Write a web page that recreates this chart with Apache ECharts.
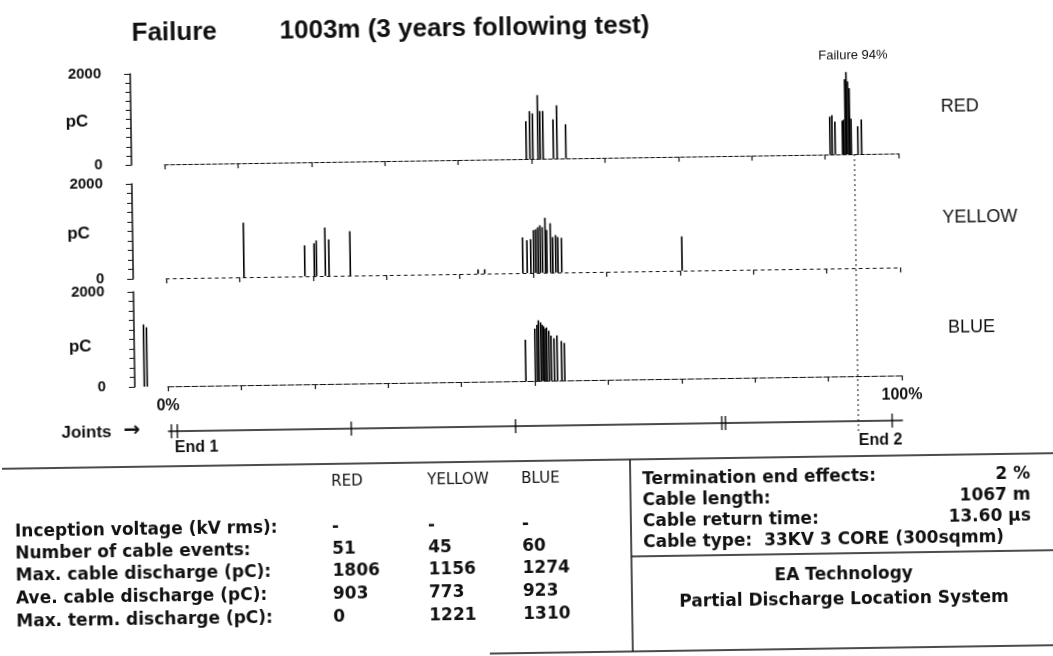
<!DOCTYPE html>
<html>
<head>
<meta charset="utf-8">
<script src="https://cdn.jsdelivr.net/npm/echarts@6/dist/echarts.min.js"></script>
<style>
  html, body { margin: 0; background: #fff; }
  /* the scan is tilted a little, so is the page */
  #chart { width: 1053px; height: 656px; transform: rotate(-0.85deg); transform-origin: 526px 328px; }
</style>
</head>
<body>
<div id="chart"></div>
<script>
// position along the cable (%) and discharge (pC) of each event
const redX  = [49.3, 49.8, 50.2, 50.9, 51.2, 51.6, 53.0, 53.5, 54.7,
               90.7, 91.0, 91.4, 92.4, 92.6, 92.8, 93.0, 93.2, 93.4, 93.6, 94.5, 95.0]
const redPC = [830, 1050, 1000, 1400, 1050, 1050, 860, 1170, 750,
               830, 860, 720, 740, 760, 1650, 1806, 1600, 1450, 780, 610, 760]

const yellowX  = [10.6, 18.9, 20.2, 20.5, 21.7, 22.2, 25.1, 42.5, 43.4,
                  48.6, 49.2, 49.7, 50.1, 50.4, 50.7, 51.0, 51.3, 51.7, 51.9, 52.4, 52.7, 53.1, 53.4, 53.9, 70.3]
const yellowPC = [1150, 650, 690, 750, 1020, 770, 935, 90, 90,
                  750, 690, 710, 900, 915, 960, 1000, 960, 1156, 900, 1040, 750, 790, 750, 730, 720]

const blueX  = [-3.2, -2.8, 48.8, 50.1, 50.4, 50.6, 50.9, 51.1, 51.3, 51.5, 51.7, 52.0, 52.3, 52.7, 53.1, 53.7, 54.1]
const bluePC = [1310, 1250, 870, 1100, 1180, 1274, 1230, 1180, 1150, 1100, 1120, 1050, 950, 890, 950, 830, 790]

const failurePct = 94
const jointMarks = [0.4, 1.2, 24.9, 47.3, 75.4, 75.9, 98.6, 100.3]

const phases = ['RED', 'YELLOW', 'BLUE']
const statLabels = ['Inception voltage (kV rms):', 'Number of cable events:', 'Max. cable discharge (pC):',
                    'Ave. cable discharge (pC):', 'Max. term. discharge (pC):']
const redStats    = ['-', '51', '1806', '903', '0']
const yellowStats = ['-', '45', '1156', '773', '1221']
const blueStats   = ['-', '60', '1274', '923', '1310']

const cableLabels = ['Termination end effects:', 'Cable length:', 'Cable return time:']
const cableValues = ['2 %', '1067 m', '13.60 µs']
const cableType = 'Cable type:  33KV 3 CORE (300sqmm)'

const INK = '#111'
const F_TAB = 'bold 17px "DejaVu Sans"'
const F_HEAD = '15px "DejaVu Sans"'

const panels = [
  { top: 68,  height: 91, x: redX,    y: redPC,    dash: [4, 2] },
  { top: 178, height: 95, x: yellowX, y: yellowPC, dash: [3, 4] },
  { top: 286, height: 95, x: blueX,   y: bluePC,   dash: [6, 2] }
]

const chart = echarts.init(document.getElementById('chart'))

const txt = (s, x, y, font, align) => ({
  type: 'text', x, y, silent: true,
  style: { text: s, font, fill: INK, align: align || 'left', verticalAlign: 'middle' }
})
const ln = (x1, y1, x2, y2, w, dash) => ({
  type: 'line', silent: true, shape: { x1, y1, x2, y2 },
  style: { stroke: INK, lineWidth: w || 1.2, lineDash: dash || null }
})

const option = {
  animation: false,
  backgroundColor: '#fff',
  title: [
    { text: 'Failure', left: 136, top: 15, padding: 0,
      textStyle: { fontFamily: 'Liberation Sans', fontWeight: 'bold', fontSize: 26, color: INK } },
    { text: '1003m (3 years following test)', left: 284, top: 15, padding: 0,
      textStyle: { fontFamily: 'Liberation Sans', fontWeight: 'bold', fontSize: 26, color: INK } }
  ],
  grid: panels.map(p => ({ left: 167, right: 152, top: p.top, height: p.height }))
    .concat([{ left: 167, right: 152, top: 414, height: 12 }]),
  xAxis: panels.map((p, i) => ({
    gridIndex: i, type: 'value', min: 0, max: 100, interval: 10,
    axisLine: { show: true, onZero: false, lineStyle: { color: INK, width: 1, type: p.dash } },
    axisTick: { show: true, length: 5, lineStyle: { color: INK, width: 1.2 } },
    axisLabel: {
      show: i === 2, margin: 12, color: INK, fontFamily: 'Liberation Sans', fontWeight: 'bold', fontSize: 16,
      formatter: v => v === 0 ? '0%' : (v === 100 ? '100%' : '')
    },
    splitLine: { show: false }
  })).concat([{
    gridIndex: 3, type: 'value', min: 0, max: 100,
    axisLine: { show: true, onZero: false, lineStyle: { color: INK, width: 1.5 } },
    axisTick: { show: false }, axisLabel: { show: false }, splitLine: { show: false }
  }]),
  yAxis: panels.map((p, i) => ({
    gridIndex: i, type: 'value', min: 0, max: 2000, interval: 2000, offset: 33,
    axisLine: { show: true, onZero: false, lineStyle: { color: INK, width: 1.5 } },
    axisTick: { show: true, length: 6, lineStyle: { color: INK } },
    minorTick: { show: true, splitNumber: 10, length: 5, lineStyle: { color: INK } },
    axisLabel: { margin: 29, color: INK, fontFamily: 'Liberation Sans', fontWeight: 'bold', fontSize: 15,
      formatter: v => String(v) },
    splitLine: { show: false }
  })).concat([{ gridIndex: 3, type: 'value', min: 0, max: 1, show: false }]),
  series: panels.map((p, i) => ({
    type: 'bar', xAxisIndex: i, yAxisIndex: i, barWidth: 1.6, clip: false, silent: true,
    itemStyle: { color: '#000' },
    data: p.x.map((x, k) => [x, p.y[k]])
  })).concat([{
    type: 'scatter', xAxisIndex: 3, yAxisIndex: 3, silent: true,
    symbol: 'rect', symbolSize: [1.6, 14], itemStyle: { color: '#000' },
    data: jointMarks.map(x => [x, 0])
  }])
}
chart.setOption(option)

// failure marker through the library's own scale
const fx = chart.convertToPixel({ xAxisIndex: 0 }, failurePct)
const fy = chart.convertToPixel({ yAxisIndex: 0 }, 0)

const g = [
  txt('pC', 80, 115, 'bold 17px "Liberation Sans"', 'center'),
  txt('pC', 80, 227, 'bold 17px "Liberation Sans"', 'center'),
  txt('pC', 80, 340, 'bold 17px "Liberation Sans"', 'center'),
  txt('RED', 944, 113, '18px "Liberation Sans"'),
  txt('YELLOW', 944, 224, '18px "Liberation Sans"'),
  txt('BLUE', 948, 334, '18px "Liberation Sans"'),
  txt('Joints', 60, 426, 'bold 17px "Liberation Sans"'),
  txt('\u2192', 122, 425, 'bold 20px "DejaVu Sans"'),
  txt('End 1', 173, 443, 'bold 16px "Liberation Sans"'),
  txt('End 2', 857, 446, 'bold 16px "Liberation Sans"'),
  ln(fx, fy, fx, 436, 1, [2, 3]),
  txt('Failure 94%', fx, 60, '13px "Liberation Sans"', 'center'),
  // table frame
  ln(0, 461, 1053, 461, 1.5),
  ln(628, 461, 628, 653, 1.5),
  ln(628, 558, 1053, 558, 1.5),
  ln(485, 653, 1053, 653, 1.5)
]

const colX = [329, 425, 519]
const rowY = [525, 547, 569, 592, 615]
phases.forEach((p, i) => g.push(txt(p, colX[i], 479, F_HEAD)))
statLabels.forEach((s, r) => {
  g.push(txt(s, 12, rowY[r], F_TAB))
  g.push(txt(redStats[r], colX[0], rowY[r], F_TAB))
  g.push(txt(yellowStats[r], colX[1], rowY[r], F_TAB))
  g.push(txt(blueStats[r], colX[2], rowY[r], F_TAB))
})
const infoY = [482, 503, 524, 545]
cableLabels.forEach((s, r) => {
  g.push(txt(s, 640, infoY[r], F_TAB))
  g.push(txt(cableValues[r], 1028, infoY[r], F_TAB, 'right'))
})
g.push(txt(cableType, 640, infoY[3], F_TAB))
g.push(txt('EA Technology', 840, 580, F_TAB, 'center'))
g.push(txt('Partial Discharge Location System', 840, 605, F_TAB, 'center'))

chart.setOption({ graphic: g })
</script>
</body>
</html>
